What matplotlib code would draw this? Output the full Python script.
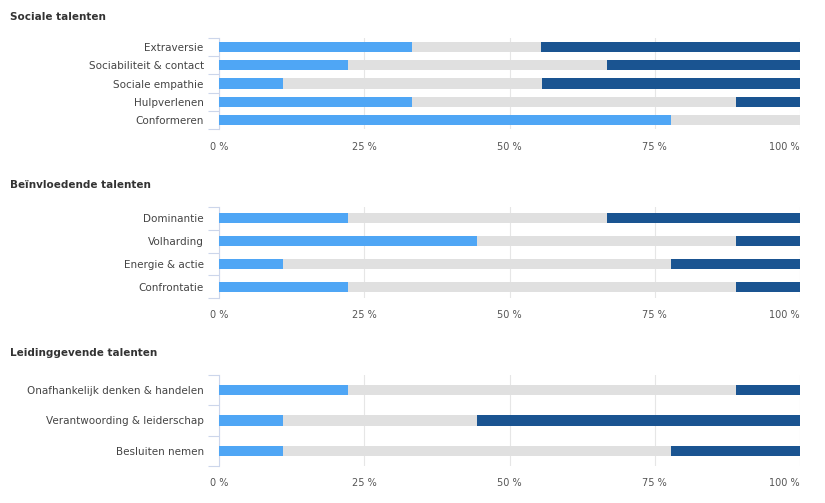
import numpy as np
import matplotlib.pyplot as plt

# share of people (in %) in low / middle / high category, per talent
titles = ['Sociale talenten', 'Beïnvloedende talenten', 'Leidinggevende talenten']

cats1 = ['Extraversie', 'Sociabiliteit & contact', 'Sociale empathie',
         'Hulpverlenen', 'Conformeren']
low1 = [33.3, 22.2, 11.1, 33.3, 77.8]
mid1 = [22.2, 44.5, 44.5, 55.6, 22.2]
high1 = [44.5, 33.3, 44.4, 11.1, 0.0]

cats2 = ['Dominantie', 'Volharding', 'Energie & actie', 'Confrontatie']
low2 = [22.2, 44.4, 11.1, 22.2]
mid2 = [44.5, 44.5, 66.7, 66.7]
high2 = [33.3, 11.1, 22.2, 11.1]

cats3 = ['Onafhankelijk denken & handelen', 'Verantwoording & leiderschap',
         'Besluiten nemen']
low3 = [22.2, 11.1, 11.1]
mid3 = [66.7, 33.3, 66.7]
high3 = [11.1, 55.6, 22.2]

xticks = [0, 25, 50, 75, 100]
xticklabels = ['0 %', '25 %', '50 %', '75 %', '100 %']

colLow = '#4fa6f5'
colMid = '#e0e0e0'
colHigh = '#1a5491'
axisCol = '#ccd6eb'

W, H = 825, 503
fig = plt.figure(figsize=(W / 100, H / 100), dpi=100)

panels = [(cats1, low1, mid1, high1, 38, 17, 0.55),
          (cats2, low2, mid2, high2, 207, 185, 0.44),
          (cats3, low3, mid3, high3, 375, 353, 0.33)]

for (cats, low, mid, high, top, titleY, barH), title in zip(panels, titles):
    ax = fig.add_axes([219 / W, 1 - (top + 91) / H, 581 / W, 91 / H])
    y = np.arange(len(cats))
    low = np.array(low)
    mid = np.array(mid)
    high = np.array(high)
    ax.barh(y, low, height=barH, color=colLow, zorder=3)
    ax.barh(y, mid, left=low, height=barH, color=colMid, zorder=3)
    ax.barh(y, high, left=low + mid, height=barH, color=colHigh, zorder=3)

    ax.set_xlim(0, 100)
    ax.set_ylim(len(cats) - 0.5, -0.5)
    ax.set_xticks(xticks)
    ax.set_xticklabels(xticklabels)
    ax.get_xticklabels()[-1].set_horizontalalignment('right')
    ax.set_yticks(y)
    ax.set_yticklabels(cats)
    ax.set_yticks(np.arange(len(cats) + 1) - 0.5, minor=True)
    ax.tick_params(axis='y', which='major', length=0, pad=11,
                   labelsize=7.5, labelcolor='#444444')
    ax.tick_params(axis='y', which='minor', length=8, width=0.8, color=axisCol)
    ax.tick_params(axis='x', length=0, pad=9, labelsize=7, labelcolor='#555555')

    ax.grid(axis='x', color='#e6e6e6', linewidth=0.8, zorder=0)
    for s in ['top', 'right', 'bottom']:
        ax.spines[s].set_visible(False)
    ax.spines['left'].set_color(axisCol)
    ax.spines['left'].set_linewidth(0.8)

    fig.text(10 / W, 1 - titleY / H, title, fontsize=7.5, fontweight='bold',
             color='#333333', ha='left', va='center')

fig.savefig('out.png', dpi=100)
